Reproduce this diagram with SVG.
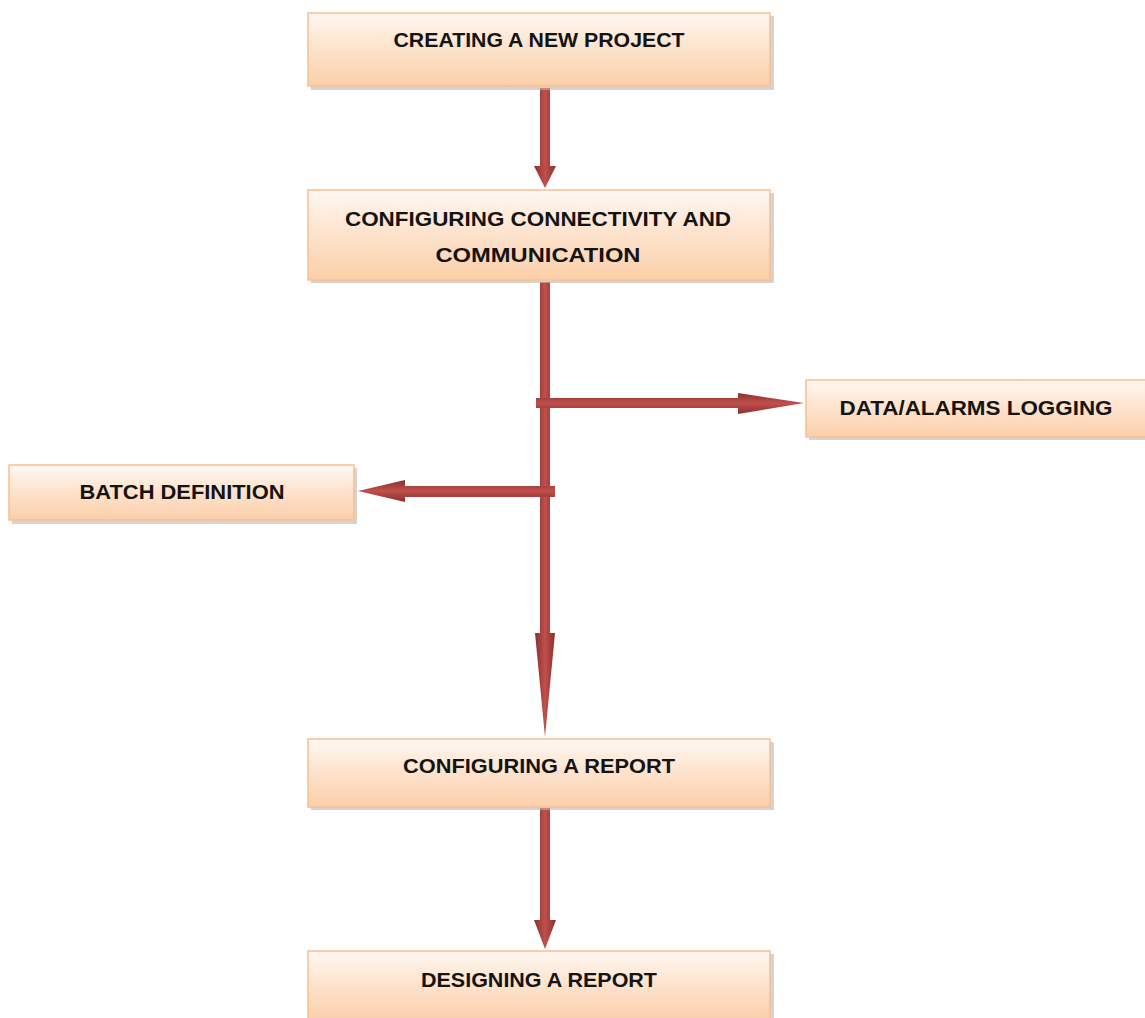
<svg xmlns="http://www.w3.org/2000/svg" width="1145" height="1018" viewBox="0 0 1145 1018">
<defs>
<linearGradient id="boxg" x1="0" y1="0" x2="0" y2="1">
<stop offset="0" stop-color="#fff8f2"/>
<stop offset="0.45" stop-color="#fde4cf"/>
<stop offset="1" stop-color="#fbcfa9"/>
</linearGradient>
<linearGradient id="vg" x1="0" y1="0" x2="1" y2="0">
<stop offset="0" stop-color="#8c2f2d"/>
<stop offset="0.5" stop-color="#c0504d"/>
<stop offset="1" stop-color="#8c2f2d"/>
</linearGradient>
<linearGradient id="hg" x1="0" y1="0" x2="0" y2="1">
<stop offset="0" stop-color="#8c2f2d"/>
<stop offset="0.5" stop-color="#c0504d"/>
<stop offset="1" stop-color="#8c2f2d"/>
</linearGradient>
</defs>
<style>
.shadow{fill:#b8b8b8;opacity:0.6}
.box{fill:url(#boxg);stroke:#f9bf8f;stroke-width:1.5}
.t{font-family:"Liberation Sans",Arial,sans-serif;font-weight:bold;font-size:20px;fill:#141414;text-anchor:middle}
.va{fill:url(#vg)}
.ha{fill:url(#hg)}
</style>
<rect width="1145" height="1018" fill="#ffffff"/>
<g id="connectors">
<path class="va" d="M540,88 H550 V166 H556 L545,188 L534,166 H540 Z"/>
<path class="va" d="M540,282 H550 V633 H555 L545,737 L535,633 H540 Z"/>
<path class="ha" d="M536,398 H738 V393 L804,403 L738,414 V408 H536 Z"/>
<path class="ha" d="M555,486 V497 H405 V502 L358,491 L405,480 V486 Z"/>
<path class="va" d="M540,808 H550 V920 H556 L545,949 L534,920 H540 Z"/>
</g>
<g id="n1">
<rect class="shadow" x="311" y="16" width="463" height="74"/>
<rect class="box" x="308" y="13" width="462" height="73"/>
<text class="t" x="539" y="47" textLength="291" lengthAdjust="spacingAndGlyphs">CREATING A NEW PROJECT</text>
</g>
<g id="n2">
<rect class="shadow" x="311" y="193" width="463" height="90"/>
<rect class="box" x="308" y="190" width="462" height="90"/>
<text class="t" x="538" y="226" textLength="386" lengthAdjust="spacingAndGlyphs">CONFIGURING CONNECTIVITY AND</text>
<text class="t" x="538" y="262" textLength="205" lengthAdjust="spacingAndGlyphs">COMMUNICATION</text>
</g>
<g id="n3">
<rect class="shadow" x="809" y="383" width="340" height="57"/>
<rect class="box" x="806" y="380" width="345" height="57"/>
<text class="t" x="976" y="415" textLength="273" lengthAdjust="spacingAndGlyphs">DATA/ALARMS LOGGING</text>
</g>
<g id="n4">
<rect class="shadow" x="12" y="468" width="345" height="56"/>
<rect class="box" x="9" y="465" width="345" height="55"/>
<text class="t" x="182" y="499" textLength="205" lengthAdjust="spacingAndGlyphs">BATCH DEFINITION</text>
</g>
<g id="n5">
<rect class="shadow" x="311" y="742" width="463" height="68"/>
<rect class="box" x="308" y="739" width="462" height="68"/>
<text class="t" x="539" y="773" textLength="272" lengthAdjust="spacingAndGlyphs">CONFIGURING A REPORT</text>
</g>
<g id="n6">
<rect class="shadow" x="311" y="954" width="463" height="70"/>
<rect class="box" x="308" y="951" width="462" height="70"/>
<text class="t" x="539" y="987" textLength="236" lengthAdjust="spacingAndGlyphs">DESIGNING A REPORT</text>
</g>
</svg>
